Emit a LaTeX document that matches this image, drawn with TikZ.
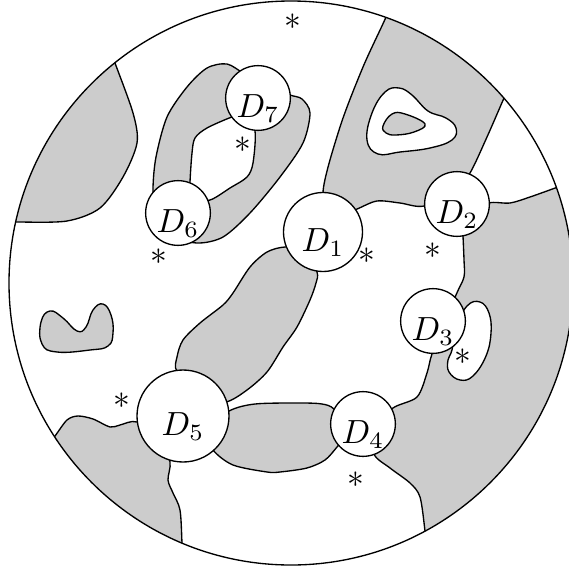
\documentclass[tikz,border=0pt]{standalone}
\newlength\pxu
\setlength\pxu{0.0105cm}

\begin{document}
\begin{tikzpicture}[
  x=\pxu, y=-\pxu,
  region/.style={fill=gray!40, draw=black},
  hole/.style={fill=white, draw=black},
  disk/.style={circle, draw, fill=white, inner sep=0pt,
               text height=13pt, text depth=1.5pt, minimum size=64\pxu},
  ast/.style={inner sep=0pt}
]
\useasboundingbox (0,0) rectangle (569,569);
\coordinate (O) at (291,283);

\begin{scope}
\clip (O) circle[radius=282];
\filldraw[region] plot[smooth] coordinates {(108,44) (115,63) (133,113) (137,143) (123,177) (100,208) (67,221) (18,222) (0,221)} -- (0,0) -- cycle;
\filldraw[region] plot[smooth] coordinates {(391,0) (386,17) (363,67) (340,127) (323,193) (340,215) (357,209) (377,201) (400,203) (424,206) (455,190) (470,173) (487,137) (504,98) (512,80)} -- (512,0) -- cycle;
\filldraw[region] plot[smooth] coordinates {(463,236) (464,260) (464,277) (456,295) (445,325) (432,354) (427,373) (417,397) (393,408) (375,428) (374,454) (390,468) (410,483) (420,497) (425,531) (428,560)} -- (428,600) -- (600,600) -- (600,181) -- plot[smooth] coordinates {(575,181) (558,187) (530,197) (510,203) (489,203) (475,215)} -- cycle;
\filldraw[region] plot[smooth] coordinates {(45,448) (55,436) (67,420) (78,416) (93,419) (110,427) (120,425) (137,422) (160,440) (170,462) (168,480) (173,493) (180,510) (182,543) (183,570)} -- (0,570) -- cycle;
\end{scope}

% holes in the upper band
\filldraw[hole] plot[smooth cycle, tension=0.7] coordinates {(367,140) (372,113) (385,92) (399,88) (412,95) (428,111) (446,118) (456,128) (452,140) (430,148) (400,152) (378,154)};
\filldraw[region] plot[smooth cycle, tension=0.7] coordinates {(383,126) (392,114) (405,114) (425,124) (414,132) (396,135) (386,133)};
\filldraw[hole] plot[smooth cycle, tension=0.7] coordinates {(467,306) (480,302) (489,313) (491,333) (486,356) (473,376) (460,380) (449,372) (448,360) (452,350) (456,328)};

% loop through D6 and D7
\filldraw[region, even odd rule]
  plot[smooth cycle] coordinates {(153,188) (156,157) (167,117) (187,87) (207,68) (227,64) (245,74) (275,88) (290,95) (302,99) (310,113) (303,143) (280,177) (250,213) (223,237) (197,243) (170,235) (155,210)}
  plot[smooth cycle] coordinates {(190,182) (192,153) (195,138) (207,128) (232,117) (245,115) (255,131) (253,163) (247,177) (230,188) (210,200) (190,200)};

\filldraw[region] plot[smooth cycle, tension=0.75] coordinates {(41,322) (50,311) (63,318) (77,331) (86,327) (93,310) (103,304) (111,315) (113,333) (108,346) (90,350) (57,352) (42,344)};

\filldraw[region] plot[smooth cycle] coordinates {(285,247) (267,252) (250,267) (233,293) (223,305) (200,323) (183,340) (177,357) (177,372) (200,400) (226,402) (247,390) (267,372) (283,347) (297,327) (310,300) (316,283) (317,272) (305,250)};
\filldraw[region] plot[smooth cycle] coordinates {(229,411) (255,404) (300,403) (322,404) (334,409) (350,430) (337,447) (325,460) (307,468) (280,472) (267,472) (233,465) (213,450) (205,430)};

\draw (O) circle[radius=282];

\node[disk, minimum size=79\pxu] (D1) at (323,232) {$D_1$};
\node[disk] (D2) at (457,204) {$D_2$};
\node[disk] (D3) at (433,321) {$D_3$};
\node[disk] (D4) at (363,424) {$D_4$};
\node[disk, minimum size=92\pxu] (D5) at (183,416) {$D_5$};
\node[disk] (D6) at (178,213) {$D_6$};
\node[disk, minimum size=62\pxu] (D7) at (258,98) {$D_7$};

\node[ast] (s0) at (293,22) {$*$};
\node[ast] (s7) at (243,145) {$*$};
\node[ast] (s6) at (159,257) {$*$};
\node[ast] (s1) at (367,256) {$*$};
\node[ast] (s2) at (433,251) {$*$};
\node[ast] (s3) at (463,357) {$*$};
\node[ast] (s4) at (356,480) {$*$};
\node[ast] (s5) at (122,401) {$*$};
\end{tikzpicture}
\end{document}
